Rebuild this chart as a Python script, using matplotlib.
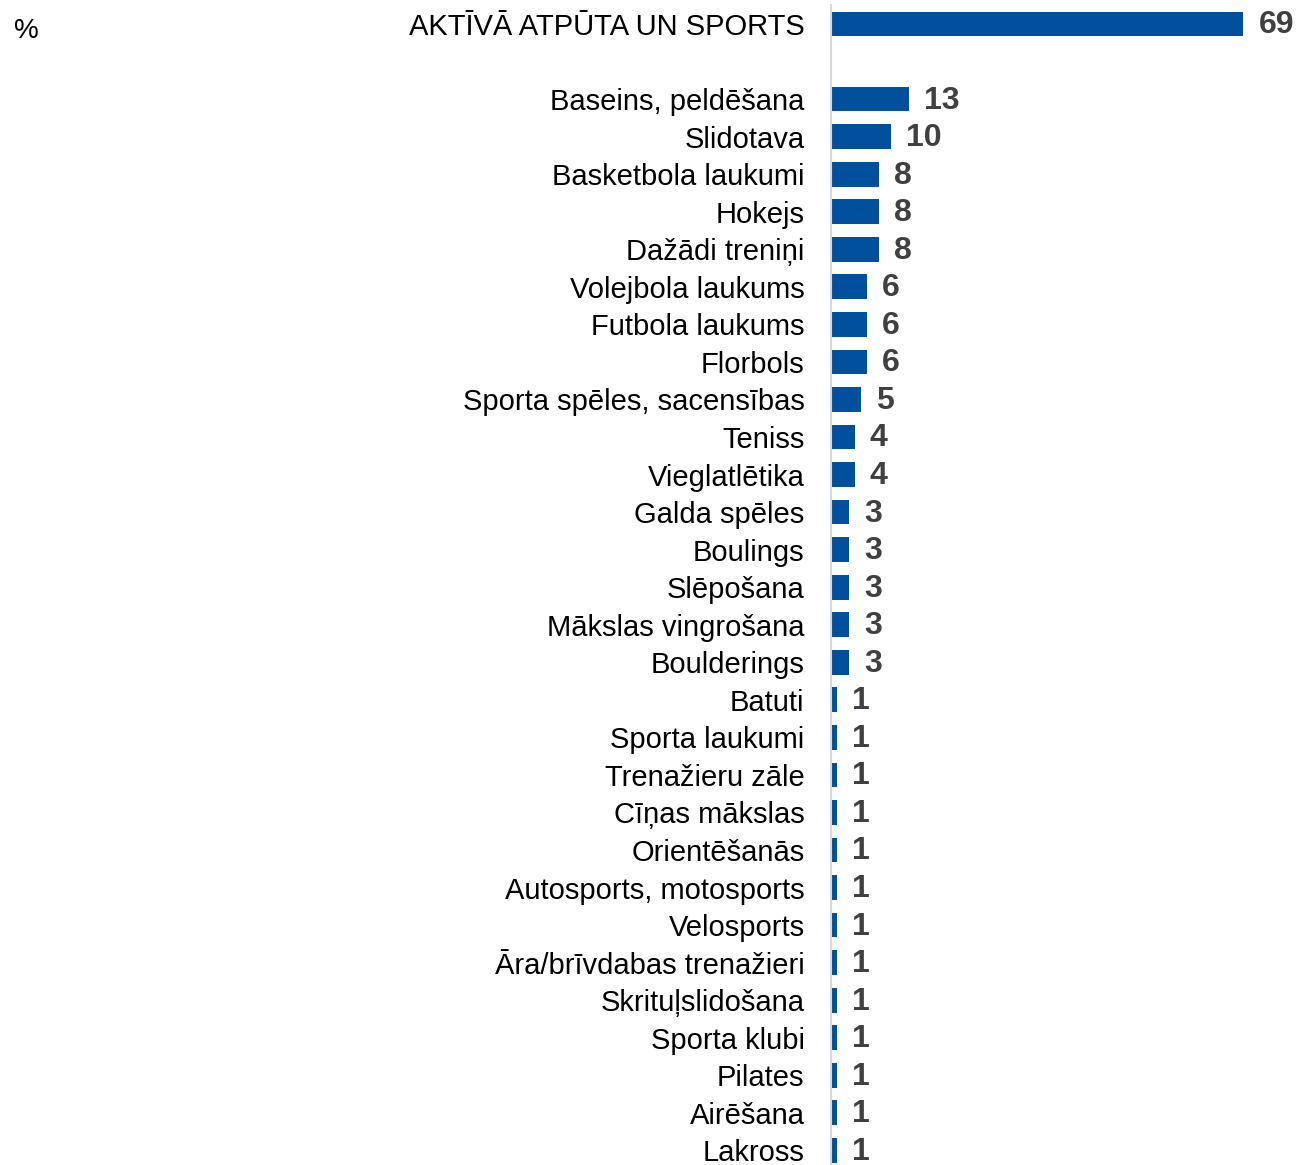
import matplotlib
matplotlib.use("Agg")
import matplotlib.pyplot as plt
from matplotlib.transforms import offset_copy

plt.rcParams['font.family'] = ['Liberation Sans', 'DejaVu Sans']

# data
total_label = "AKTĪVĀ ATPŪTA UN SPORTS"
total_value = 69
categories = ["Baseins, peldēšana", "Slidotava", "Basketbola laukumi", "Hokejs",
              "Dažādi treniņi", "Volejbola laukums", "Futbola laukums", "Florbols",
              "Sporta spēles, sacensības", "Teniss", "Vieglatlētika", "Galda spēles",
              "Boulings", "Slēpošana", "Mākslas vingrošana", "Boulderings", "Batuti",
              "Sporta laukumi", "Trenažieru zāle", "Cīņas mākslas", "Orientēšanās",
              "Autosports, motosports", "Velosports", "Āra/brīvdabas trenažieri",
              "Skrituļslidošana", "Sporta klubi", "Pilates", "Airēšana", "Lakross"]
values = [13, 10, 8, 8, 8, 6, 6, 6, 5, 4, 4, 3, 3, 3, 3, 3,
          1, 1, 1, 1, 1, 1, 1, 1, 1, 1, 1, 1, 1]

labels = [total_label] + categories
vals = [total_value] + values
ypos = [0] + [i + 2 for i in range(len(categories))]

bar_color = "#00509E"
fig = plt.figure(figsize=(13.02, 11.65), dpi=100)
ax = fig.add_axes([831 / 1302, 0, 1 - 831 / 1302, 1 - 5 / 1165])

ax.barh(ypos, vals, height=0.66, color=bar_color)
ax.set_xlim(0, 78.8)
ax.set_ylim(30.39, -0.506)

for s in ["top", "right", "bottom"]:
    ax.spines[s].set_visible(False)
ax.spines["left"].set_color("#d9d9d9")
ax.spines["left"].set_linewidth(1.5)
ax.set_xticks([])
ax.set_yticks(ypos)
ax.set_yticklabels(labels, fontsize=21, color="black")
ax.tick_params(axis="y", length=0, pad=19)

# value labels, bold grey, right of the bars
tr = offset_copy(ax.transData, fig=fig, x=15, y=-1.5, units="dots")
for y, v in zip(ypos, vals):
    ax.text(v, y, str(v), transform=tr, ha="left", va="center",
            fontsize=23, fontweight="bold", color="#404040")

fig.text(14 / 1302, 1 - 31 / 1165, "%", fontsize=20, ha="left", va="center")

fig.savefig("out.png", dpi=100)
